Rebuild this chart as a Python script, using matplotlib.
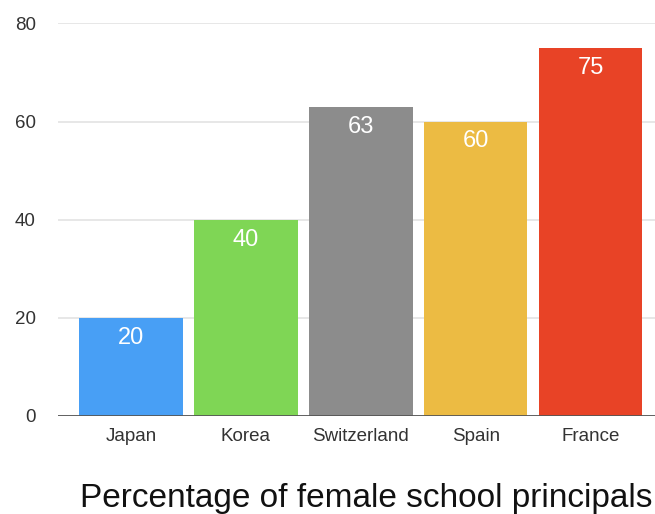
import matplotlib
matplotlib.use("Agg")
import matplotlib.pyplot as plt

plt.rcParams['font.family'] = ['Liberation Sans', 'DejaVu Sans']

countries = ["Japan", "Korea", "Switzerland", "Spain", "France"]
values = [20, 40, 63, 60, 75]
colors = ["#489ff5", "#7fd655", "#8c8c8c", "#ecbb43", "#e84326"]
yticks = [0, 20, 40, 60, 80]

fig = plt.figure(figsize=(6.55, 5.14), dpi=100)
ax = fig.add_axes([0.0885, 0.1907, 0.9115, 0.7636])

x = range(len(countries))
bars = ax.bar(x, values, width=0.9, color=colors, zorder=2)

for b, v in zip(bars, values):
    ax.text(b.get_x() + b.get_width() / 2, v - 1.8, str(v), ha="center", va="top",
            color="white", fontsize=17)

ax.set_ylim(0, 80)
ax.set_xlim(-0.635, 4.56)
ax.set_yticks(yticks)
ax.set_xticks(list(x))
ax.set_xticklabels(countries)
ax.grid(axis="y", color="#e3e3e3", linewidth=1.2, zorder=0)
ax.axhline(0, color="#555555", linewidth=2, zorder=3)
for s in ax.spines.values():
    s.set_visible(False)
ax.tick_params(length=0, labelsize=13.5, labelcolor="#333333")
ax.tick_params(axis="y", pad=16)
ax.tick_params(axis="x", pad=9)

fig.text(0.559, 0.014, "Percentage of female school principals", ha="center",
         fontsize=24, color="#111111")

fig.savefig("out.png", dpi=100)
